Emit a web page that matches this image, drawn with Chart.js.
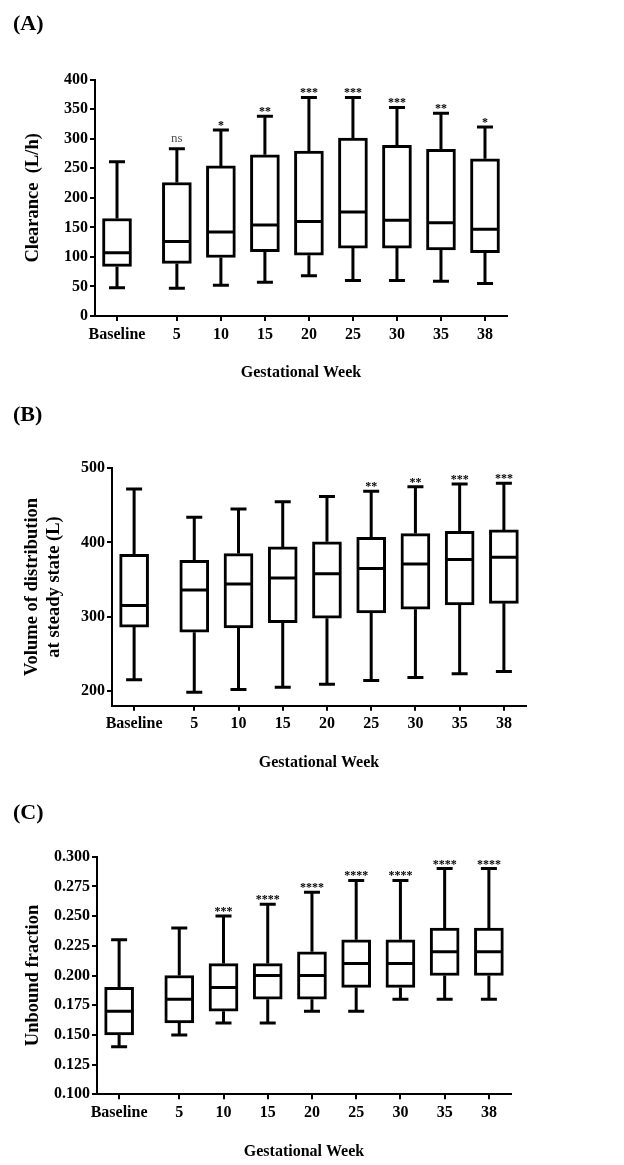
<!DOCTYPE html>
<html>
<head>
<meta charset="utf-8">
<script src="https://cdn.jsdelivr.net/npm/chart.js@4/dist/chart.umd.min.js"></script>
<style>
  html, body { margin: 0; padding: 0; background: #fff; }
  body { position: relative; width: 624px; height: 1165px; overflow: hidden; }
  canvas { position: absolute; left: 0; }
</style>
</head>
<body>
<canvas id="chartA" width="624" height="400" style="top:0px"></canvas>
<canvas id="chartB" width="624" height="390" style="top:400px"></canvas>
<canvas id="chartC" width="624" height="375" style="top:790px"></canvas>
<script>
const weekLabels = ["Baseline", "5", "10", "15", "20", "25", "30", "35", "38"];

// (A) clearance, L/h
const clearanceMin = [48, 47, 52, 57, 68, 60, 60, 59, 55];
const clearanceQ1 = [84, 89, 99, 109, 103, 115, 115, 112, 107];
const clearanceMedian = [107, 126, 142, 154, 160, 176, 162, 158, 147];
const clearanceQ3 = [165, 226, 254, 273, 279, 301, 289, 282, 266];
const clearanceMax = [261, 283, 315, 338, 370, 370, 353, 343, 320];
const clearanceSig = ["", "ns", "*", "**", "***", "***", "***", "**", "*"];
const clearanceTicks = [0, 50, 100, 150, 200, 250, 300, 350, 400];

// (B) volume of distribution at steady state, L
const vdMin = [215, 198, 202, 205, 209, 214, 218, 223, 226];
const vdQ1 = [286, 279, 285, 292, 298, 305, 310, 316, 318];
const vdMedian = [315, 336, 344, 352, 358, 365, 371, 377, 380];
const vdQ3 = [384, 376, 385, 394, 401, 407, 412, 415, 417];
const vdMax = [472, 434, 445, 455, 462, 469, 475, 479, 480];
const vdSig = ["", "", "", "", "", "**", "**", "***", "***"];
const vdTicks = [200, 300, 400, 500];

// (C) unbound fraction
const fuMin = [0.14, 0.15, 0.16, 0.16, 0.17, 0.17, 0.18, 0.18, 0.18];
const fuQ1 = [0.15, 0.16, 0.17, 0.18, 0.18, 0.19, 0.19, 0.20, 0.20];
const fuMedian = [0.17, 0.18, 0.19, 0.20, 0.20, 0.21, 0.21, 0.22, 0.22];
const fuQ3 = [0.19, 0.20, 0.21, 0.21, 0.22, 0.23, 0.23, 0.24, 0.24];
const fuMax = [0.23, 0.24, 0.25, 0.26, 0.27, 0.28, 0.28, 0.29, 0.29];
const fuSig = ["", "", "***", "****", "****", "****", "****", "****", "****"];
const fuTicks = [0.100, 0.125, 0.150, 0.175, 0.200, 0.225, 0.250, 0.275, 0.300];

const SERIF = "'Liberation Serif', 'Times New Roman', serif";
Chart.defaults.color = "#000";
Chart.defaults.font.family = SERIF;

// baseline sits a little apart from the weekly groups
const slot = i => (i === 0 ? 0 : i + 0.36);

const boxPlugin = {
  id: "boxWhiskers",
  afterDatasetsDraw(chart, args, opts) {
    const { ctx, scales: { x, y } } = chart;
    ctx.save();
    ctx.strokeStyle = "#000";
    ctx.lineWidth = 3;
    ctx.lineCap = "butt";
    opts.median.forEach((m, i) => {
      const px = x.getPixelForValue(slot(i));
      const yMin = y.getPixelForValue(opts.min[i]);
      const yMax = y.getPixelForValue(opts.max[i]);
      const yQ1 = y.getPixelForValue(opts.q1[i]);
      const yQ3 = y.getPixelForValue(opts.q3[i]);
      const yMed = y.getPixelForValue(m);
      ctx.beginPath();
      ctx.moveTo(px, yQ3); ctx.lineTo(px, yMax);
      ctx.moveTo(px, yQ1); ctx.lineTo(px, yMin);
      ctx.moveTo(px - 8, yMax); ctx.lineTo(px + 8, yMax);
      ctx.moveTo(px - 8, yMin); ctx.lineTo(px + 8, yMin);
      ctx.moveTo(px - 13, yMed); ctx.lineTo(px + 13, yMed);
      ctx.stroke();
      const s = opts.sig[i];
      if (s) {
        ctx.textAlign = "center";
        ctx.textBaseline = "alphabetic";
        if (s === "ns") {
          ctx.fillStyle = "#555";
          ctx.font = "13px " + SERIF;
          ctx.fillText(s, px, yMax - 7);
        } else {
          ctx.fillStyle = "#000";
          ctx.font = "bold 12px " + SERIF;
          ctx.fillText(s, px, yMax - 1);
        }
      }
    });
    ctx.restore();
  },
  afterDraw(chart, args, opts) {
    const { ctx } = chart;
    ctx.save();
    ctx.fillStyle = "#000";
    ctx.font = "bold 22px " + SERIF;
    ctx.textAlign = "left";
    ctx.textBaseline = "middle";
    ctx.fillText(opts.label, 13, opts.labelY);
    ctx.restore();
  }
};

function makePanel(id, p) {
  const canvas = document.getElementById(id);
  const H = canvas.height;
  return new Chart(canvas, {
    type: "bar",
    data: {
      datasets: [{
        data: p.q1.map((q, i) => ({ x: slot(i), y: [q, p.q3[i]] })),
        backgroundColor: "#fff",
        borderColor: "#000",
        borderWidth: 3,
        borderSkipped: false,
        barThickness: 29
      }]
    },
    options: {
      responsive: false,
      animation: false,
      devicePixelRatio: 1,
      layout: { padding: { top: p.areaTop, right: 624 - p.right, left: 0, bottom: 0 } },
      plugins: {
        legend: { display: false },
        tooltip: { enabled: false },
        boxWhiskers: {
          min: p.min, q1: p.q1, median: p.median, q3: p.q3, max: p.max,
          sig: p.sig, label: p.label, labelY: p.labelY
        }
      },
      scales: {
        x: {
          type: "linear",
          min: -0.5,
          max: 8.86,
          offset: false,
          afterFit: s => { s.height = H - p.areaBottom; },
          afterBuildTicks: s => { s.ticks = weekLabels.map((l, i) => ({ value: slot(i) })); },
          ticks: {
            autoSkip: false,
            maxRotation: 0,
            padding: 4,
            font: { size: 16, weight: "bold" },
            callback: (v, i) => weekLabels[i]
          },
          grid: { offset: false, drawOnChartArea: false, drawTicks: true, tickLength: 5, color: "#000", lineWidth: 2 },
          border: { display: true, color: "#000", width: 2 },
          title: {
            display: true,
            text: "Gestational Week",
            font: { size: 16, weight: "bold" },
            padding: { top: 0, bottom: p.xTitleGap - 9.6 }
          }
        },
        y: {
          min: p.yMin,
          max: p.yMax,
          afterFit: s => { s.width = p.left; },
          afterBuildTicks: s => { s.ticks = p.ticks.map(v => ({ value: v })); },
          ticks: {
            padding: 2,
            font: { size: 16, weight: "bold" },
            callback: v => v.toFixed(p.decimals)
          },
          grid: { drawOnChartArea: false, drawTicks: true, tickLength: 5, color: "#000", lineWidth: 2 },
          border: { display: true, color: "#000", width: 2 },
          title: {
            display: true,
            text: p.yTitle,
            font: { size: 18.5, weight: "bold" },
            padding: { top: p.yTitleX - 11.1, bottom: 0 }
          }
        }
      }
    },
    plugins: [boxPlugin]
  });
}

makePanel("chartA", {
  label: "(A)", labelY: 24,
  min: clearanceMin, q1: clearanceQ1, median: clearanceMedian, q3: clearanceQ3, max: clearanceMax,
  sig: clearanceSig, ticks: clearanceTicks, yMin: 0, yMax: 400, decimals: 0,
  yTitle: "Clearance  (L/h)", yTitleX: 33,
  areaTop: 79.7, areaBottom: 316, left: 95, right: 507, xTitleGap: 27
});

makePanel("chartB", {
  label: "(B)", labelY: 15,
  min: vdMin, q1: vdQ1, median: vdMedian, q3: vdQ3, max: vdMax,
  sig: vdSig, ticks: vdTicks, yMin: 180, yMax: 500, decimals: 0,
  yTitle: ["Volume of distribution", "at steady state (L)"], yTitleX: 32,
  areaTop: 68.3, areaBottom: 305.7, left: 112, right: 526, xTitleGap: 27
});

makePanel("chartC", {
  label: "(C)", labelY: 23,
  min: fuMin, q1: fuQ1, median: fuMedian, q3: fuQ3, max: fuMax,
  sig: fuSig, ticks: fuTicks, yMin: 0.1, yMax: 0.3, decimals: 3,
  yTitle: "Unbound fraction", yTitleX: 33,
  areaTop: 66.7, areaBottom: 304.3, left: 97, right: 511, xTitleGap: 13
});
</script>
</body>
</html>
